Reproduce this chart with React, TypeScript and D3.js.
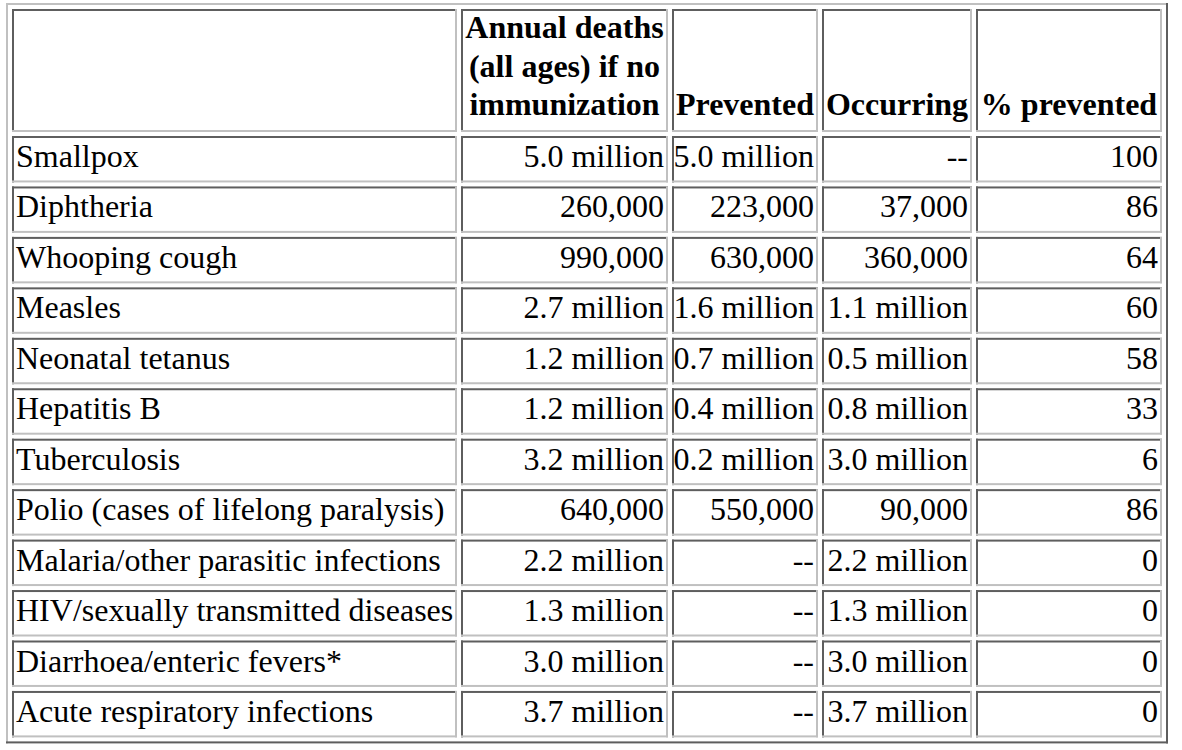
import React from "react";
import * as d3 from "d3";

const categories = [
  "Smallpox",
  "Diphtheria",
  "Whooping cough",
  "Measles",
  "Neonatal tetanus",
  "Hepatitis B",
  "Tuberculosis",
  "Polio (cases of lifelong paralysis)",
  "Malaria/other parasitic infections",
  "HIV/sexually transmitted diseases",
  "Diarrhoea/enteric fevers*",
  "Acute respiratory infections",
];
const annualDeaths = [
  "5.0 million", "260,000", "990,000", "2.7 million", "1.2 million", "1.2 million",
  "3.2 million", "640,000", "2.2 million", "1.3 million", "3.0 million", "3.7 million",
];
const prevented = [
  "5.0 million", "223,000", "630,000", "1.6 million", "0.7 million", "0.4 million",
  "0.2 million", "550,000", "--", "--", "--", "--",
];
const occurring = [
  "--", "37,000", "360,000", "1.1 million", "0.5 million", "0.8 million",
  "3.0 million", "90,000", "2.2 million", "1.3 million", "3.0 million", "3.7 million",
];
const pctPrevented = ["100", "86", "64", "60", "58", "33", "6", "86", "0", "0", "0", "0"];
const headers: string[][] = [
  [],
  ["Annual deaths", "(all ages) if no", "immunization"],
  ["Prevented"],
  ["Occurring"],
  ["% prevented"],
];

const W = 1182;
const H = 750;
const LIGHT = "#c0c0c0";
const DARK = "#5e5e5e";
const FONT = "'Liberation Serif', 'Times New Roman', Times, serif";

// layout
const colLefts = [12, 461, 672, 822, 976];
const colWidths = [445, 207, 146, 150, 186];
const headerTop = 9;
const headerBottom = 132;
const rowStep = 50.45;
const firstRowTop = 136;
const spacing = 4;

function Cell({ x, y, w, h }: { x: number; y: number; w: number; h: number }) {
  return (
    <g>
      <rect x={x} y={y} width={w} height={h} fill="#fff" />
      <rect x={x} y={y} width={w} height={2} fill={DARK} />
      <rect x={x} y={y} width={2} height={h} fill={DARK} />
      <rect x={x} y={y + h - 2} width={w} height={2} fill={LIGHT} />
      <rect x={x + w - 2} y={y} width={2} height={h} fill={LIGHT} />
    </g>
  );
}

export default function App() {
  const y = d3
    .scaleBand<string>()
    .domain(categories)
    .range([firstRowTop, firstRowTop + categories.length * rowStep - spacing])
    .paddingInner(spacing / rowStep)
    .paddingOuter(0);
  const rowH = y.bandwidth();

  const columns = [categories, annualDeaths, prevented, occurring, pctPrevented];

  const tableLeft = 6;
  const tableTop = 3;
  const tableRight = colLefts[4] + colWidths[4] + spacing + 2;
  const tableBottom = (y(categories[categories.length - 1]) as number) + rowH + spacing + 2;

  return (
    <svg
      width={W}
      height={H}
      style={{ position: "absolute", left: 0, top: 0, background: "#fff" }}
      fontFamily={FONT}
      fontSize={32}
    >
      <rect x={0} y={0} width={W} height={H} fill="#fff" />
      {/* outer table border (outset) */}
      <rect x={tableLeft} y={tableTop} width={tableRight - tableLeft} height={2} fill={LIGHT} />
      <rect x={tableLeft} y={tableTop} width={2} height={tableBottom - tableTop} fill={LIGHT} />
      <rect x={tableLeft} y={tableBottom - 2} width={tableRight - tableLeft} height={2} fill={DARK} />
      <rect x={tableRight - 2} y={tableTop} width={2} height={tableBottom - tableTop} fill={DARK} />

      {/* header */}
      {headers.map((lines, ci) => {
        const x0 = colLefts[ci];
        const w = colWidths[ci];
        return (
          <g key={"h" + ci}>
            <Cell x={x0} y={headerTop} w={w} h={headerBottom - headerTop} />
            {lines.map((ln, li) => (
              <text
                key={li}
                x={x0 + w / 2}
                y={headerBottom - 17 - (lines.length - 1 - li) * 38.5}
                textAnchor="middle"
                fontWeight="bold"
                fill="#000"
              >
                {ln}
              </text>
            ))}
          </g>
        );
      })}

      {/* body */}
      {categories.map((cat, ri) => {
        const top = y(cat) as number;
        return (
          <g key={cat}>
            {columns.map((col, ci) => {
              const x0 = colLefts[ci];
              const w = colWidths[ci];
              const left = ci === 0;
              return (
                <g key={ci}>
                  <Cell x={x0} y={top} w={w} h={rowH} />
                  <text
                    x={left ? x0 + 4 : x0 + w - 4}
                    y={top + 31}
                    textAnchor={left ? "start" : "end"}
                    fill="#000"
                  >
                    {col[ri]}
                  </text>
                </g>
              );
            })}
          </g>
        );
      })}
    </svg>
  );
}
